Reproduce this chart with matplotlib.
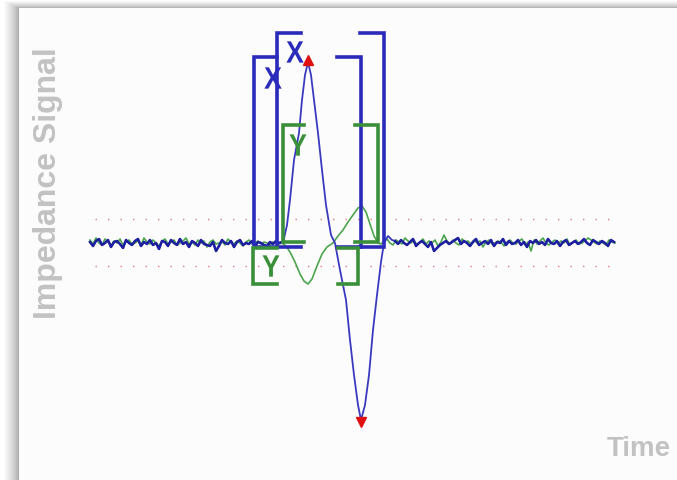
import matplotlib
matplotlib.use("Agg")
import matplotlib.pyplot as plt
from matplotlib.patches import Rectangle, PathPatch
from matplotlib.textpath import TextPath
from matplotlib.font_manager import FontProperties
from matplotlib.transforms import Affine2D
import numpy as np

# --- data (time in samples, signal in arbitrary units, baseline = 0) ---
t_left = np.arange(0, 193, 3)
blue_left = [1, -3, 2, 4, -2, 0, 3, -4, 1, 2,
             -1, -5, 3, 0, -2, 2, 4, -3, 1, -1,
             3, -2, 0, -6, 2, 1, -3, 3, 0, -2,
             4, -1, 1, -4, 2, 0, -3, 3, -1, -2,
             -3, 1, -8, -3, 3, 0, -1, 2, -4, 1,
             3, -2, 0, -1, 2, -3, 1, 0, -2, -3,
             1, -1, 2, 0, 1]
green_left = [3, -1, 5, 0, -2, 4, 1, -3, 2, 0,
              4, -2, 1, 3, -1, 0, 2, -2, 5, 1,
              -1, 3, 0, -3, 2, 4, -1, 1, 3, -2,
              0, 2, 5, -1, 1, -2, 3, 0, 2, -4,
              1, 3, -1, 0, 2, -2, 4, 1, -1, 2,
              0, -3, 1, 3, -1, 0, 2, -1, 1, 0,
              -2, 1, 0, -1, 0]

blue_pulse_t = [193, 197, 200, 204, 209, 212, 215, 218, 221, 224, 228, 232, 236, 241, 245,
                250, 256, 260, 264, 268, 271, 275, 279, 283, 287, 291, 294, 298, 302]
blue_pulse = [0, 18, 43, 83, 110, 143, 168, 181, 168, 143, 110, 73, 38, 8, 0,
              -27, -57, -97, -132, -162, -177, -162, -132, -87, -52, -19, 0, 7, 3]
green_pulse_t = [196, 200, 205, 210, 214, 218, 222, 227, 232, 237, 243,
                 248, 253, 258, 263, 268, 272, 276, 280, 284, 288]
green_pulse = [-3, -9, -19, -31, -38, -41, -36, -23, -11, -4, 0,
               7, 13, 21, 28, 35, 37, 31, 19, 7, 0]

t_blue_right = np.arange(305, 525, 3)
blue_right = [2, -1, 3, 0, -2, 1, 4, -3, 0, 2,
              -1, -4, 1, -8, -5, -2, 0, 2, -1, 1,
              3, 5, -1, 2, 0, -3, 1, 4, -2, 0,
              2, -1, 3, -3, 1, 0, 4, -2, 2, -1,
              0, 3, -2, 1, -4, 2, 0, 3, -1, 1,
              -2, 4, 0, -1, 2, -3, 1, 3, -2, 0,
              2, -1, 1, 4, 0, -2, 3, 1, -1, 2,
              0, -3, 3, 1]
t_green_right = np.arange(291, 526, 3)
green_right = [-1, 2, 4, 0, -2, 3, 1, -1, 5, 2,
               0, 3, -2, 1, 4, -1, 2, 0, 3, -3,
               1, 8, 2, -1, 3, 0, -2, 4, 1, 2,
               -1, 3, 0, 2, -4, 1, 3, -1, 0, 2,
               1, -3, 1, 3, 0, -1, 2, 4, -2, 1,
               -8, 3, -1, 2, 5, 0, -2, 1, 3, -1,
               2, 0, 4, -2, 1, 3, -1, 0, 2, 5,
               3, 1, -1, 2, 0, -2, 3, 1, 0]

threshold = [24, -23]
peak_t, peak_s = 218, 183
trough_t, trough_s = 271, -179

# brackets: (edge t, tip t, top s, bottom s)
blue_brackets = [(164, 187, 186, -4), (271, 247, 186, -4),
                 (187, 211, 210, -4), (294, 270, 210, -4)]
green_brackets = [(193, 214, 118, 1), (288, 265, 118, 1),
                  (163, 187, -5, -41), (268, 248, -5, -41)]
labels = [("X", 183, 165, "blue"), ("X", 205, 191, "blue"),
          ("Y", 208, 98, "green"), ("Y", 181, -23, "green")]

BLUE = "#2b2bbb"
GREEN = "#3a903a"

fig = plt.figure(figsize=(6.77, 4.80), dpi=100)
fig.patch.set_facecolor("white")

# panel with soft shadow on the left/top
W, H = 677, 480
for k in range(16, 0, -1):
    g = 0.60 + 0.40 * (k / 16) ** 0.6
    x0 = 19 - k
    top = 8 - k * 8 / 16
    fig.add_artist(Rectangle((x0 / W, 0), (W - x0) / W, (H - top) / H,
                             transform=fig.transFigure, color=(g, g, g), lw=0,
                             zorder=-10))
fig.add_artist(Rectangle((19 / W, 0), (W - 19) / W, (H - 8) / H,
                         transform=fig.transFigure, color="#fcfcfc", lw=0, zorder=-9))

ax = fig.add_axes([0, 0, 1, 1])
ax.set_xlim(-90, 587)
ax.set_ylim(-237, 243)
ax.axis("off")
ax.patch.set_alpha(0)

for s in threshold:
    ax.plot([5, 525], [s, s], color="#e07a7a", lw=1, ls=(0, (1, 8)), zorder=1)

ax.plot(np.concatenate([t_left, green_pulse_t, t_green_right]),
        green_left + green_pulse + green_right, color="#4ca54c", lw=1.2, zorder=2)
ax.plot(np.concatenate([t_left, blue_pulse_t, t_blue_right]),
        blue_left + blue_pulse + blue_right, color="#3a3ac0", lw=1.3, zorder=3)
# baseline parts of the blue trace look heavier
ax.plot(t_left, blue_left, color="#1e1ea0", lw=1.8, zorder=3)
ax.plot(t_blue_right, blue_right, color="#1e1ea0", lw=1.8, zorder=3)

for edge, tip, top, bot in blue_brackets:
    ax.plot([tip, edge, edge, tip], [top, top, bot, bot], color=BLUE, lw=2.6,
            solid_joinstyle="miter", zorder=4)
for edge, tip, top, bot in green_brackets:
    ax.plot([tip, edge, edge, tip], [top, top, bot, bot], color=GREEN, lw=2.6,
            solid_joinstyle="miter", zorder=4)

ax.plot(peak_t, peak_s, marker="^", color="#e01010", ms=7, zorder=5)
ax.plot(trough_t, trough_s, marker="v", color="#e01010", ms=7, zorder=5)

# slightly condensed bold letters
fp = FontProperties(family="Liberation Sans", weight="bold")
for txt, t, s, c in labels:
    tp = TextPath((0, 0), txt, size=31, prop=fp)
    ext = tp.get_extents()
    tr = Affine2D().translate(-(ext.x0 + ext.x1) / 2, -(ext.y0 + ext.y1) / 2) \
        .scale(0.86, 1.0).translate(t, s)
    ax.add_patch(PathPatch(tr.transform_path(tp), color=BLUE if c == "blue" else GREEN,
                           lw=0, zorder=6))

fig.text(48 / W, 1 - 183 / H, "Impedance Signal", rotation=90, color="#c2c2c2",
         fontsize=23, fontweight="bold", family="Liberation Sans",
         ha="center", va="center")
fig.text(639 / W, 1 - 449 / H, "Time", color="#c2c2c2", fontsize=20,
         fontweight="bold", family="Liberation Sans", ha="center", va="center")

fig.savefig("out.png", dpi=100)
